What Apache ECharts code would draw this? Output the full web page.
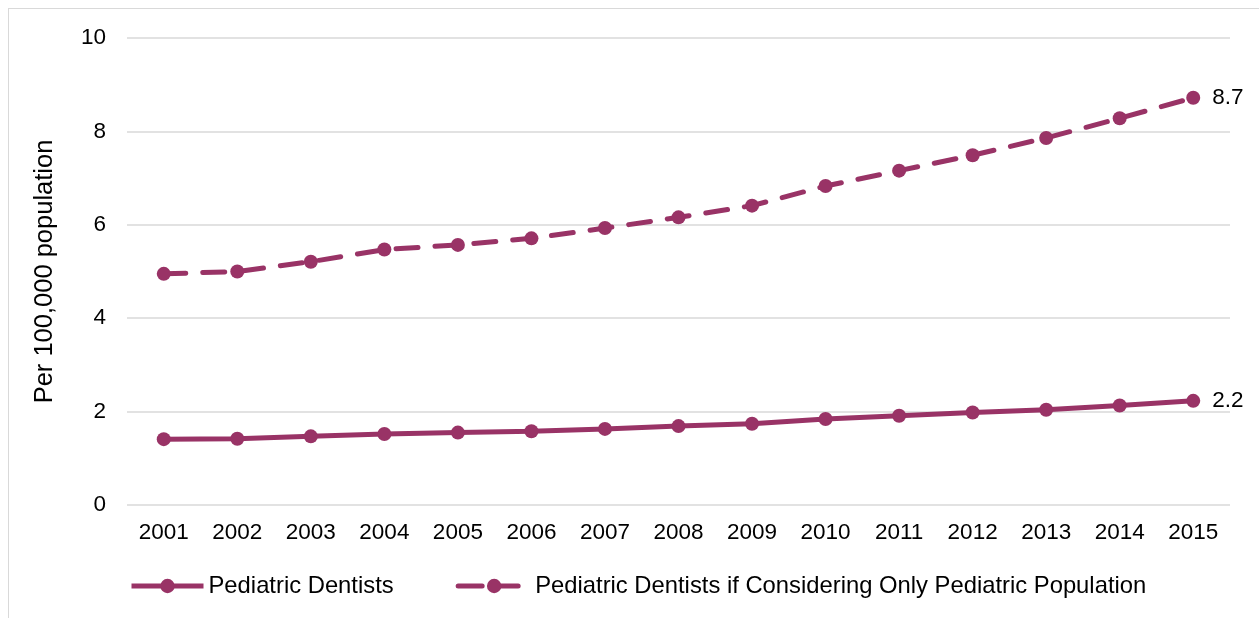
<!DOCTYPE html>
<html>
<head>
<meta charset="utf-8">
<script src="https://cdn.jsdelivr.net/npm/echarts@6/dist/echarts.min.js"></script>
<style>
  html, body { margin: 0; padding: 0; background: #fff; }
  #frame { position: absolute; left: 8px; top: 8px; width: 1260px; height: 620px; border: 1px solid #d9d9d9; box-sizing: border-box; }
  #chart { width: 1259px; height: 618px; }
</style>
</head>
<body>
<div id="frame"></div>
<div id="chart"></div>
<script>
const years = ['2001', '2002', '2003', '2004', '2005', '2006', '2007', '2008',
               '2009', '2010', '2011', '2012', '2013', '2014', '2015'];
const pediatricDentists = [1.41, 1.42, 1.47, 1.52, 1.55, 1.58, 1.63, 1.69,
                           1.74, 1.84, 1.91, 1.98, 2.04, 2.13, 2.23];
const pediatricPopOnly = [4.95, 5.0, 5.21, 5.47, 5.57, 5.71, 5.93, 6.16,
                          6.41, 6.83, 7.16, 7.49, 7.86, 8.28, 8.72];

const plum = '#993366';
const font = 'Liberation Sans, Arial, sans-serif';

const chart = echarts.init(document.getElementById('chart'));

// only the last point carries a value label
const endLabel = (params) => params.dataIndex === years.length - 1 ? params.value.toFixed(1) : '';

const option = {
    backgroundColor: 'transparent',
    animation: false,
    textStyle: { fontFamily: font },
    grid: { left: 127, right: 29, top: 38, bottom: 113 },
    legend: {
        left: 124,
        top: 569,
        itemWidth: 72,
        itemHeight: 18,
        itemGap: 62,
        textStyle: { fontSize: 23.8, color: '#000', fontFamily: font },
        lineStyle: { width: 5 },
        data: [
            { name: 'Pediatric Dentists' },
            { name: 'Pediatric Dentists if Considering Only Pediatric Population',
              lineStyle: { width: 5, type: [24, 12] } }
        ]
    },
    xAxis: {
        type: 'category',
        data: years,
        boundaryGap: true,
        axisLine: { show: false },
        axisTick: { show: false },
        axisLabel: { color: '#000', fontSize: 22.5, margin: 16, fontFamily: font }
    },
    yAxis: {
        type: 'value',
        min: 0,
        max: 10,
        interval: 2,
        name: 'Per 100,000 population',
        nameLocation: 'middle',
        nameGap: 69,
        nameTextStyle: { color: '#000', fontSize: 25.5, fontFamily: font },
        axisLabel: { color: '#000', fontSize: 22.5, margin: 21, fontFamily: font },
        splitLine: { lineStyle: { color: '#d9d9d9', width: 1.5 } }
    },
    series: [
        {
            name: 'Pediatric Dentists',
            type: 'line',
            data: pediatricDentists,
            symbol: 'circle',
            symbolSize: 14,
            color: plum,
            lineStyle: { width: 5, color: plum },
            itemStyle: { color: plum },
            label: { show: true, position: 'right', distance: 12, color: '#000', fontSize: 22.5, formatter: endLabel }
        },
        {
            name: 'Pediatric Dentists if Considering Only Pediatric Population',
            type: 'line',
            data: pediatricPopOnly,
            symbol: 'circle',
            symbolSize: 14,
            color: plum,
            lineStyle: { width: 5, color: plum, type: [22, 17], cap: 'round' },
            itemStyle: { color: plum },
            label: { show: true, position: 'right', distance: 12, color: '#000', fontSize: 22.5, formatter: endLabel }
        }
    ]
};

chart.setOption(option);

window.addEventListener('resize', () => {
    chart.resize();
});
</script>
</body>
</html>
